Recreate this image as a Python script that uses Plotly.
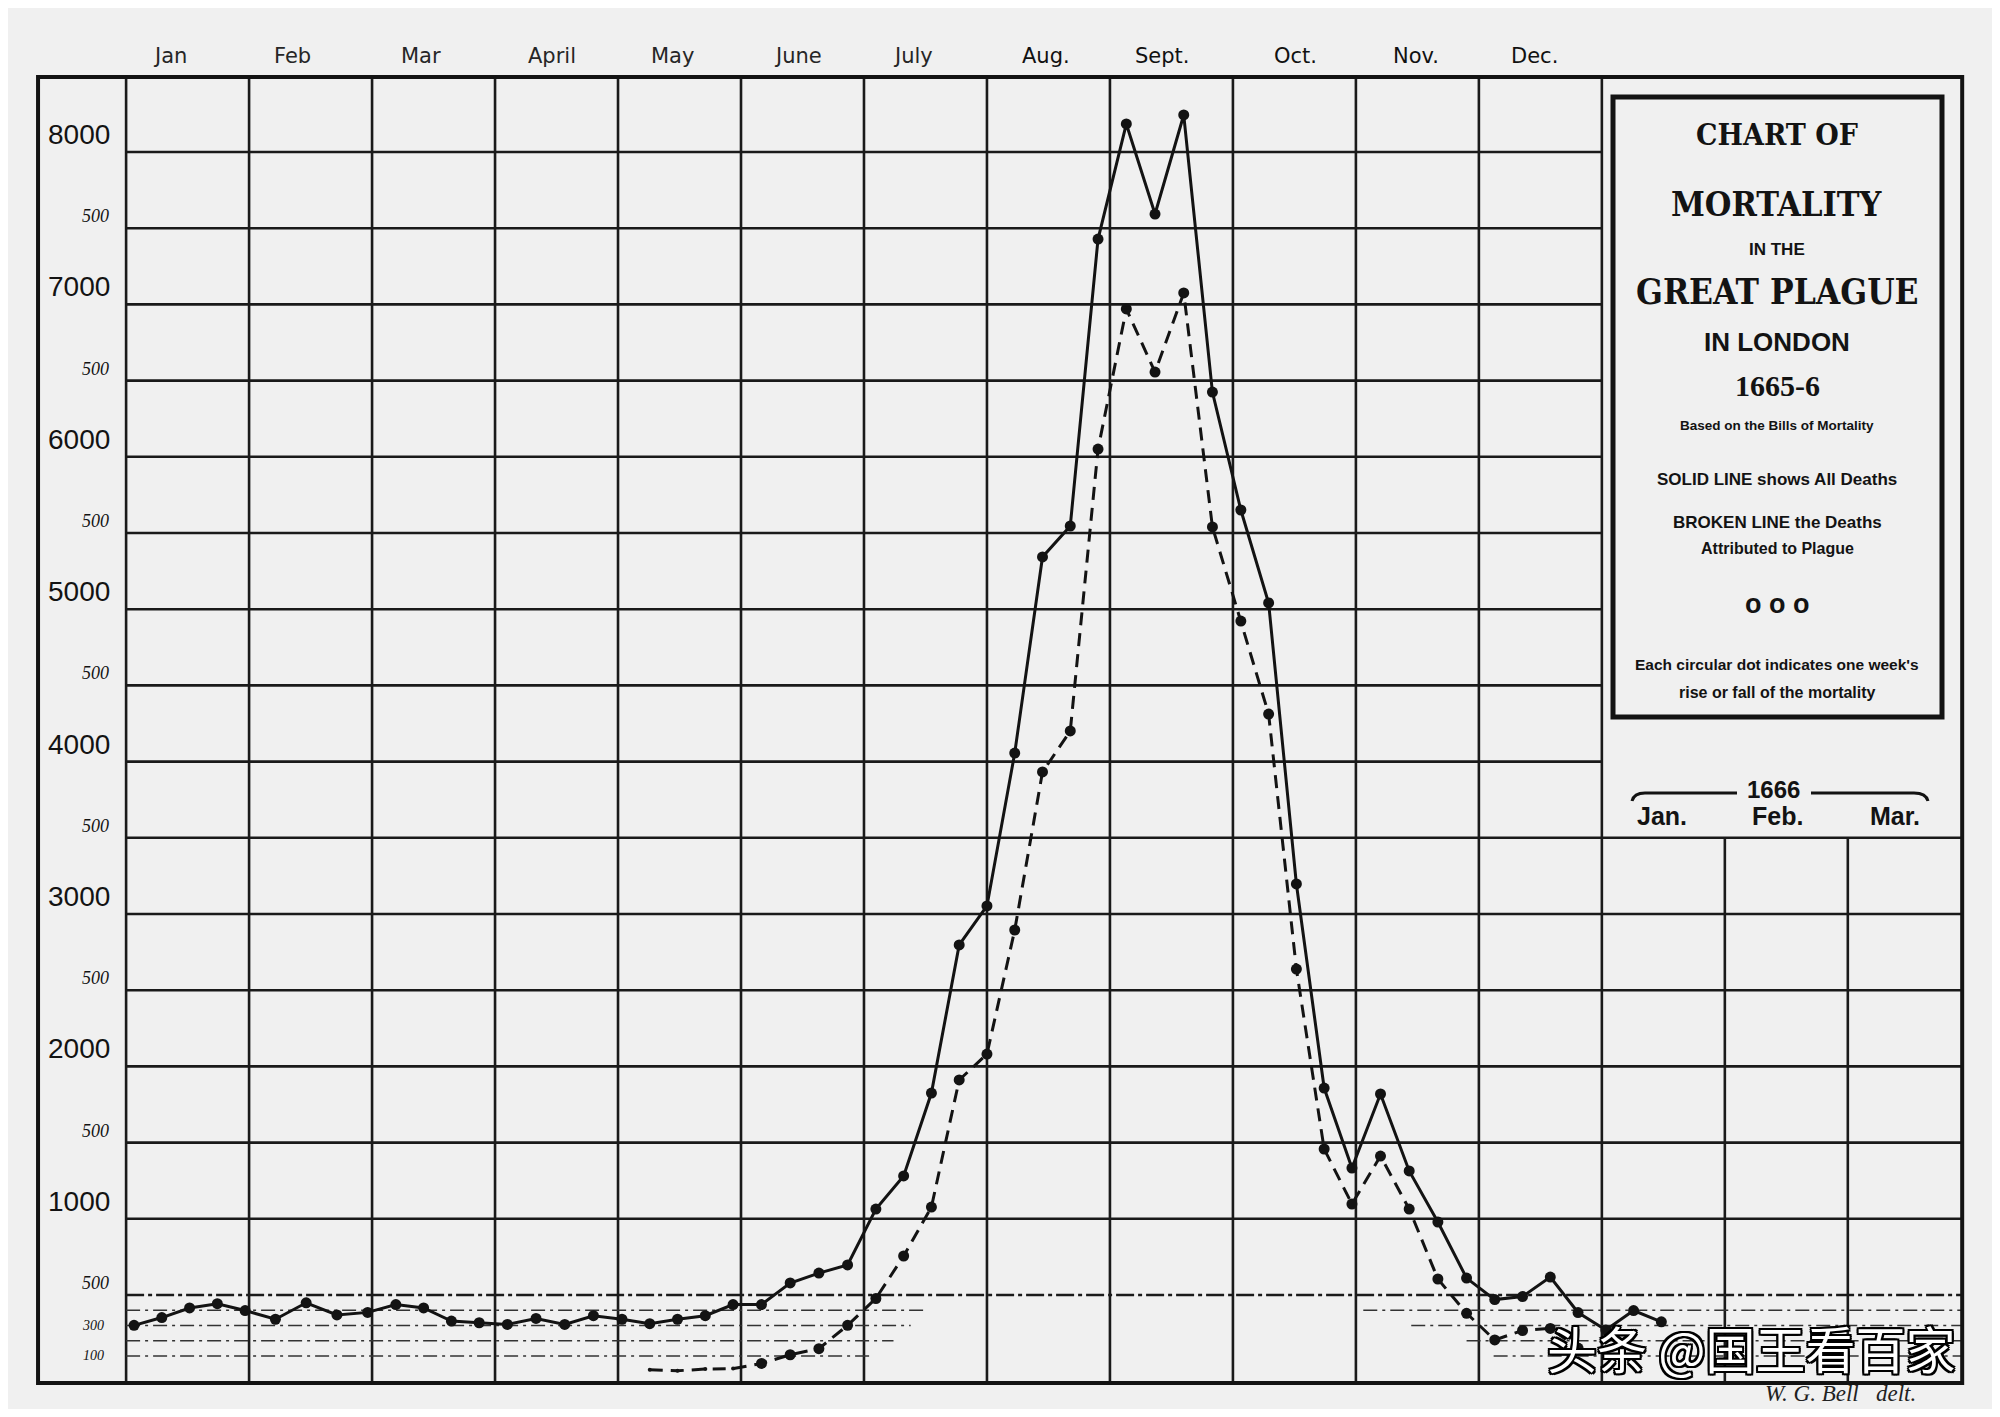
import datetime
import calendar
import plotly.graph_objects as go

# the page body adds an 8px margin, so the figure is 16px smaller than the window
OFF = 8
W, H = 2000 - 2 * OFF, 1417 - 2 * OFF

# ---------------- data ----------------
months_1665 = ["Jan", "Feb", "Mar", "April", "May", "June", "July",
               "Aug.", "Sept.", "Oct.", "Nov.", "Dec."]
months_1666 = ["Jan.", "Feb.", "Mar."]

# weekly Bills of Mortality (week ending dates), all deaths
all_start = "1665-01-03"
all_deaths = [301, 352, 415, 443, 398, 341, 449, 369, 386, 437,
              415, 329, 318, 307, 346, 307, 364, 341, 312, 341,
              364, 437, 437, 579, 644, 697,
              1064, 1281, 1825, 2797, 3053, 4056, 5343, 5546, 7429, 8184,
              7593, 8243, 6425, 5651, 5041, 3197, 1858, 1333, 1819, 1314,
              979, 611, 470, 490, 618, 385,
              270, 398, 324]

# deaths attributed to plague
plague_start = "1665-05-09"
plague_deaths = [9, 3, 14, 17, 51, 108, 148, 301, 477, 756,
                 1077, 1911, 2081, 2895, 3932, 4201, 6051, 6970, 6556, 7075,
                 5540, 4922, 4312, 2639, 1458, 1097, 1412, 1064, 605, 380,
                 205, 267, 281, 152]

major_ticks = [1000, 2000, 3000, 4000, 5000, 6000, 7000, 8000]
minor_ticks = [500, 1500, 2500, 3500, 4500, 5500, 6500, 7500]
low_ticks = [300, 100]
sub_levels = [400, 300, 200, 100]

# ---------------- helpers ----------------
def month_pos(start, n):
    d0 = datetime.date.fromisoformat(start)
    out = []
    for k in range(n):
        d = d0 + datetime.timedelta(days=7 * k)
        dim = calendar.monthrange(d.year, d.month)[1]
        out.append((d.year - 1665) * 12 + (d.month - 1) + (d.day - 1) / dim)
    return out

def px(x):
    return (x - OFF) / W

def py(y):
    return 1 - (y - OFF) / H

x_all = month_pos(all_start, len(all_deaths))
x_pl = month_pos(plague_start, len(plague_deaths))
pl_big = [(x, v) for x, v in zip(x_pl, plague_deaths) if v >= 20]
pl_small = [(x, v) for x, v in zip(x_pl, plague_deaths) if v < 20]

INK = "#131313"
BG = "#f0f0f0"

fig = go.Figure()
fig.add_trace(go.Scatter(
    x=x_all, y=all_deaths, mode="lines+markers",
    line=dict(color=INK, width=3),
    marker=dict(size=11, color=INK, line=dict(width=0)),
    hoverinfo="skip", showlegend=False))
fig.add_trace(go.Scatter(
    x=x_pl, y=plague_deaths, mode="lines",
    line=dict(color=INK, width=3, dash="13px,8px"),
    hoverinfo="skip", showlegend=False))
fig.add_trace(go.Scatter(
    x=[p[0] for p in pl_big], y=[p[1] for p in pl_big], mode="markers",
    marker=dict(size=11, color=INK, line=dict(width=0)),
    hoverinfo="skip", showlegend=False))
fig.add_trace(go.Scatter(
    x=[p[0] for p in pl_small], y=[p[1] for p in pl_small], mode="markers",
    marker=dict(size=4, color=INK, line=dict(width=0)),
    hoverinfo="skip", showlegend=False))

# ---------------- grid ----------------
TOP, BOT = 8492, -77
LEFT, RIGHT_MAIN, RIGHT = -0.716, 12, 14.93
PANEL_LEVEL = 3500
shapes = []
gl = dict(color="#1a1a1a", width=2.6)
for m in range(0, 13):
    shapes.append(dict(type="line", xref="x", yref="y", x0=m, x1=m, y0=BOT, y1=TOP, line=gl, layer="below"))
for m in (13, 14):
    shapes.append(dict(type="line", xref="x", yref="y", x0=m, x1=m, y0=BOT, y1=PANEL_LEVEL, line=gl, layer="below"))
for v in range(1000, 8001, 500):
    x1 = RIGHT if v <= PANEL_LEVEL else RIGHT_MAIN
    shapes.append(dict(type="line", xref="x", yref="y", x0=0, x1=x1, y0=v, y1=v, line=gl, layer="below"))
shapes.append(dict(type="line", xref="x", yref="y", x0=0, x1=RIGHT, y0=500, y1=500,
                   line=dict(color="#1a1a1a", width=2.6, dash="18px,4px,4px,4px"), layer="below"))
sub_left_end = [6.52, 6.38, 6.24, 6.07]
sub_right_start = [10.06, 10.45, 10.9, 11.12]
for v, e, s in zip(sub_levels, sub_left_end, sub_right_start):
    sl = dict(color="#333", width=1.6, dash="14px,5px,3px,5px")
    shapes.append(dict(type="line", xref="x", yref="y", x0=0, x1=e, y0=v, y1=v, line=sl, layer="below"))
    shapes.append(dict(type="line", xref="x", yref="y", x0=s, x1=RIGHT, y0=v, y1=v, line=sl, layer="below"))
# outer frame
shapes.append(dict(type="rect", xref="x", yref="y", x0=LEFT, x1=RIGHT, y0=BOT, y1=TOP,
                   line=dict(color=INK, width=4), layer="below"))
# title panel box
shapes.append(dict(type="rect", xref="paper", yref="paper", x0=px(1613), x1=px(1942),
                   y0=py(717), y1=py(97), line=dict(color=INK, width=5)))
# 1666 bracket
shapes.append(dict(type="path", xref="paper", yref="paper",
                   path=f"M {px(1632)},{py(801)} Q {px(1634)},{py(793)} {px(1645)},{py(793)} L {px(1737)},{py(793)}",
                   line=dict(color=INK, width=3)))
shapes.append(dict(type="path", xref="paper", yref="paper",
                   path=f"M {px(1811)},{py(793)} L {px(1914)},{py(793)} Q {px(1926)},{py(793)} {px(1928)},{py(801)}",
                   line=dict(color=INK, width=3)))

# ---------------- text ----------------
ann = []
month_shift = [0.36, 0.35, 0.40, 0.46, 0.44, 0.46, 0.40, 0.48, 0.43, 0.51, 0.49, 0.45]
for i, name in enumerate(months_1665):
    ann.append(dict(x=i + month_shift[i], y=py(56), xref="x", yref="paper", text=name, showarrow=False,
                    xanchor="center", yanchor="middle",
                    font=dict(family="DejaVu Sans", size=21, color="#262626" if i < 7 else "#111")))
for v in major_ticks:
    ann.append(dict(x=-0.115, y=v, xref="x", yref="y", text=str(v), showarrow=False,
                    xanchor="right", yanchor="bottom",
                    font=dict(family="Liberation Sans", size=28, color=INK)))
for v in minor_ticks:
    ann.append(dict(x=-0.123, y=v, xref="x", yref="y", text="500", showarrow=False,
                    xanchor="right", yanchor="bottom",
                    font=dict(family="Liberation Serif", size=18, color=INK, style="italic")))
for v in low_ticks:
    ann.append(dict(x=-0.163, y=v, xref="x", yref="y", text=str(v), showarrow=False,
                    xanchor="right", yanchor="middle",
                    font=dict(family="Liberation Serif", size=14, color=INK, style="italic")))

SERIF_C = "DejaVu Serif Condensed, DejaVu Serif, serif"
SANS_B = "Liberation Sans, Arial, sans-serif"
CX = px(1777)
panel = [
    ("<b>CHART OF</b>", 134, SERIF_C, 30),
    ("<b>MORTALITY</b>", 204, SERIF_C, 34),
    ("<b>IN THE</b>", 249, SANS_B, 17),
    ("<b>GREAT PLAGUE</b>", 291, SERIF_C, 35),
    ("<b>IN LONDON</b>", 342, SANS_B, 26),
    ("<b>1665-6</b>", 385, "Liberation Serif", 30),
    ("<b>Based on the Bills of Mortality</b>", 425, SANS_B, 13.5),
    ("<b>SOLID LINE shows All Deaths</b>", 479, SANS_B, 17),
    ("<b>BROKEN LINE the Deaths</b>", 522, SANS_B, 17),
    ("<b>Attributed to Plague</b>", 549, SANS_B, 16),
    ("<b>o o o</b>", 604, SANS_B, 27),
    ("<b>Each circular dot indicates one week's</b>", 664, SANS_B, 15.5),
    ("<b>rise or fall of the mortality</b>", 692, SANS_B, 16),
]
for txt, yy, fam, sz in panel:
    ann.append(dict(x=CX, y=py(yy), xref="paper", yref="paper", text=txt, showarrow=False,
                    xanchor="center", yanchor="middle",
                    font=dict(family=fam, size=sz, color=INK)))

ann.append(dict(x=px(1773), y=py(790), xref="paper", yref="paper", text="<b>1666</b>", showarrow=False,
                xanchor="center", yanchor="middle",
                font=dict(family=SANS_B, size=24, color=INK)))
for name, xx in zip(months_1666, (1662, 1777, 1895)):
    ann.append(dict(x=px(xx), y=py(816), xref="paper", yref="paper", text=f"<b>{name}</b>", showarrow=False,
                    xanchor="center", yanchor="middle",
                    font=dict(family=SANS_B, size=25, color=INK)))

ann.append(dict(x=px(1840), y=py(1393), xref="paper", yref="paper", text="W. G. Bell   delt.",
                showarrow=False, xanchor="center", yanchor="middle",
                font=dict(family="Liberation Serif", size=23, color="#222", style="italic")))

outline = ("2px 2px 0 #000, -2px -2px 0 #000, 2px -2px 0 #000, -2px 2px 0 #000, "
           "0 2px 0 #000, 2px 0 0 #000, 0 -2px 0 #000, -2px 0 0 #000")
ann.append(dict(x=px(1751), y=py(1347), xref="paper", yref="paper", text="头条 @国王看百家",
                showarrow=False, xanchor="center", yanchor="middle",
                font=dict(family="Noto Sans CJK SC", size=50, color="#ffffff", shadow=outline)))

# axis ranges: x in months from Jan 1665, y in weekly deaths
X0, X1 = -0.9603, 15.1724
Y0, Y1 = -248.0, 8944.9

fig.update_layout(
    width=W, height=H,
    margin=dict(l=0, r=0, t=0, b=0),
    paper_bgcolor=BG, plot_bgcolor=BG,
    xaxis=dict(range=[X0, X1], visible=False, showgrid=False, zeroline=False),
    yaxis=dict(range=[Y0, Y1], visible=False, showgrid=False, zeroline=False),
    shapes=shapes, annotations=ann,
)

fig.write_html("out.html")
